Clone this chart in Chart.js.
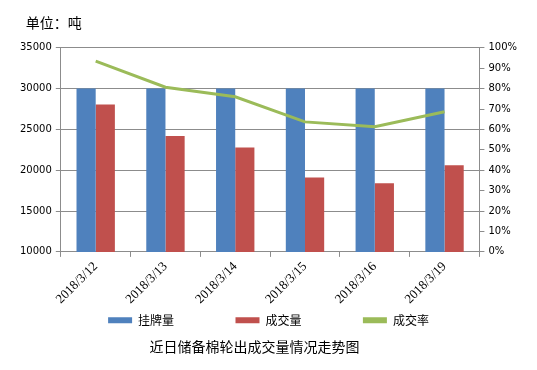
<!DOCTYPE html>
<html>
<head>
<meta charset="utf-8">
<script src="https://cdn.jsdelivr.net/npm/chart.js@4/dist/chart.umd.min.js"></script>
<style>
  html, body { margin: 0; padding: 0; background: #fff; }
  #wrap { width: 537px; height: 370px; }
</style>
</head>
<body>
<div id="wrap"><canvas id="chart" width="537" height="370"></canvas></div>
<script>
// 数据
const dates = ['2018/3/12', '2018/3/13', '2018/3/14', '2018/3/15', '2018/3/16', '2018/3/19'];
const listed = [30000, 30000, 30000, 30000, 30000, 30000];   // 挂牌量
const traded = [28050, 24200, 22800, 19100, 18400, 20600];   // 成交量
const rate = [93.5, 80.7, 76.0, 63.7, 61.3, 68.7];           // 成交率 %
const seriesNames = ['挂牌量', '成交量', '成交率'];
const unitText = '单位：吨';
const titleText = '近日储备棉轮出成交量情况走势图';

const gridGray = '#8c8c8c';

new Chart(document.getElementById('chart'), {
    type: 'bar',
    data: {
        labels: dates,
        datasets: [
            {
                label: seriesNames[0],
                data: listed,
                backgroundColor: '#4F81BD',
                yAxisID: 'y',
                order: 1,
                categoryPercentage: 0.55,
                barPercentage: 1
            },
            {
                label: seriesNames[1],
                data: traded,
                backgroundColor: '#C0504D',
                yAxisID: 'y',
                order: 1,
                categoryPercentage: 0.55,
                barPercentage: 1
            },
            {
                type: 'line',
                label: seriesNames[2],
                data: rate,
                borderColor: '#9BBB59',
                backgroundColor: '#9BBB59',
                borderWidth: 3,
                pointRadius: 0,
                tension: 0,
                yAxisID: 'y1',
                order: 0
            }
        ]
    },
    options: {
        responsive: false,
        animation: false,
        layout: { padding: { left: 16, right: 16, top: 0, bottom: 2 } },
        plugins: {
            subtitle: {
                display: true,
                text: '\u2002\u2009' + unitText,
                position: 'top',
                align: 'start',
                color: '#000',
                font: { family: 'Noto Sans CJK SC', size: 14, weight: 'normal' },
                padding: { top: 14, bottom: 17 }
            },
            title: {
                display: true,
                text: titleText + '\u3000\u3000',
                position: 'bottom',
                color: '#000',
                font: { family: 'Noto Sans CJK SC', size: 14, weight: 'normal' },
                padding: { top: 2, bottom: 13 }
            },
            legend: {
                position: 'bottom',
                labels: {
                    boxWidth: 24,
                    boxHeight: 6,
                    color: '#000',
                    padding: 5,
                    font: { family: 'Noto Sans CJK SC', size: 12 },
                    sort: (a, b) => a.datasetIndex - b.datasetIndex,
                    generateLabels: chart => {
                        const items = Chart.defaults.plugins.legend.labels.generateLabels(chart);
                        items.forEach(it => {
                            if (it.datasetIndex < 2) it.text = it.text + '\u3000\u3000\u3000\u3000\u2002\u2009';
                            it.lineWidth = 0;
                        });
                        return items;
                    }
                }
            },
            tooltip: { enabled: false }
        },
        scales: {
            x: {
                grid: {
                    drawOnChartArea: false,
                    drawTicks: true,
                    tickLength: 5,
                    color: gridGray
                },
                border: { color: gridGray },
                ticks: {
                    maxRotation: 45,
                    minRotation: 45,
                    color: '#000',
                    padding: 2,
                    font: { family: 'Liberation Serif', size: 13 }
                }
            },
            y: {
                position: 'left',
                min: 10000,
                max: 35000,
                ticks: {
                    stepSize: 5000,
                    color: '#000',
                    padding: 4,
                    font: { family: 'DejaVu Sans', size: 10 },
                    callback: value => String(value)
                },
                grid: { color: gridGray, tickLength: 5 },
                border: { color: gridGray }
            },
            y1: {
                position: 'right',
                min: 0,
                max: 100,
                ticks: {
                    stepSize: 10,
                    color: '#000',
                    padding: 4,
                    font: { family: 'DejaVu Sans', size: 10 },
                    callback: value => `${value}%`
                },
                grid: { drawOnChartArea: false, color: gridGray, tickLength: 5 },
                border: { color: gridGray }
            }
        }
    }
});
</script>
</body>
</html>
